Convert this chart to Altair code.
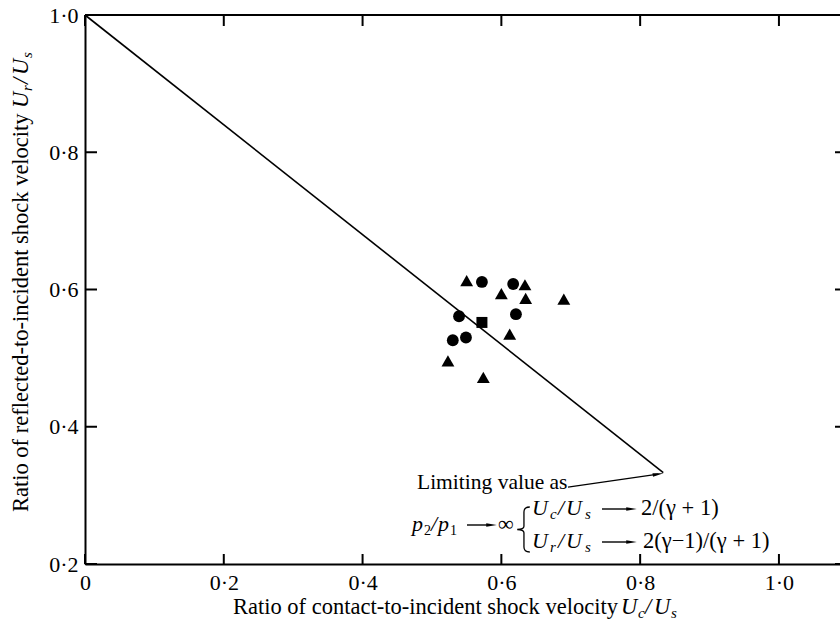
import altair as alt
import pandas as pd

FONT = "Liberation Serif"

# ---- data ----
X_TICKS = [0, 0.2, 0.4, 0.6, 0.8, 1.0]
Y_TICKS = [0.2, 0.4, 0.6, 0.8, 1.0]
LINE_X = [0.0, 0.8333]
LINE_Y = [1.0, 0.3333]
TRI_X = [0.550, 0.600, 0.634, 0.635, 0.690, 0.612, 0.523, 0.574]
TRI_Y = [0.613, 0.594, 0.607, 0.587, 0.586, 0.535, 0.496, 0.472]
CIR_X = [0.572, 0.617, 0.539, 0.621, 0.549, 0.530]
CIR_Y = [0.611, 0.608, 0.561, 0.564, 0.530, 0.526]
SQ_X = [0.572]
SQ_Y = [0.552]
ARROW_X = [0.696, 0.826]
ARROW_Y = [0.312, 0.331]

W, H = 755, 549
xscale = alt.Scale(domain=[0, 1.088], nice=False, zero=False)
yscale = alt.Scale(domain=[0.2, 1.0], nice=False, zero=False)
label_expr = "datum.value == 0 ? '0' : replace(format(datum.value, '.1f'), '.', '·')"

one = pd.DataFrame({"d": [0]})

def ax(pad):
    return dict(labelExpr=label_expr, title=None, ticks=False, tickSize=0, grid=False,
                domain=True, domainColor="black", domainWidth=2, labelFont=FONT,
                labelFontSize=22, labelColor="black", labelPadding=pad,
                labelFlush=False, labelOverlap=False)

line = alt.Chart(pd.DataFrame({"x": LINE_X, "y": LINE_Y})).mark_line(
    color="black", strokeWidth=1.6).encode(
    x=alt.X("x:Q", scale=xscale, axis=alt.Axis(values=X_TICKS, **ax(8))),
    y=alt.Y("y:Q", scale=yscale, axis=alt.Axis(values=Y_TICKS, **ax(7))),
)

def pts(xs, ys, shape, size):
    return alt.Chart(pd.DataFrame({"x": xs, "y": ys})).mark_point(
        shape=shape, filled=True, color="black", opacity=1, size=size).encode(
        x=alt.X("x:Q", scale=xscale, axis=None),
        y=alt.Y("y:Q", scale=yscale, axis=None))

tri = pts(TRI_X, TRI_Y, "triangle-up", 165)
cir = pts(CIR_X, CIR_Y, "circle", 140)
sq = pts(SQ_X, SQ_Y, "square", 121)

# frame: top border at the top of the y range
top = alt.Chart(pd.DataFrame({"yv": [Y_TICKS[-1]]})).mark_rule(color="black", strokeWidth=2).encode(
    y=alt.Y("yv:Q", scale=yscale, axis=None),
    x=alt.value(0), x2=alt.value(W))

xt = pd.DataFrame({"tx": X_TICKS})
yt = pd.DataFrame({"ty": Y_TICKS})
tick_bottom = alt.Chart(xt).mark_rule(color="black", strokeWidth=2).encode(
    x=alt.X("tx:Q", scale=xscale, axis=None), y=alt.value(H), y2=alt.value(H - 10))
tick_top = alt.Chart(xt).mark_rule(color="black", strokeWidth=2).encode(
    x=alt.X("tx:Q", scale=xscale, axis=None), y=alt.value(0), y2=alt.value(11))
tick_left = alt.Chart(yt).mark_rule(color="black", strokeWidth=2).encode(
    y=alt.Y("ty:Q", scale=yscale, axis=None), x=alt.value(0), x2=alt.value(12))
tick_right = alt.Chart(yt).mark_rule(color="black", strokeWidth=2).encode(
    y=alt.Y("ty:Q", scale=yscale, axis=None), x=alt.value(W - 5), x2=alt.value(W))

# arrow for "Limiting value as"
arrow_line = alt.Chart(pd.DataFrame({"x": ARROW_X, "y": ARROW_Y})).mark_line(
    color="black", strokeWidth=1.3).encode(
    x=alt.X("x:Q", scale=xscale, axis=None), y=alt.Y("y:Q", scale=yscale, axis=None))
HEAD = "M-1,-0.33L1,0L-1,0.33Z"
arrow_head = alt.Chart(pd.DataFrame({"x": [ARROW_X[1]], "y": [ARROW_Y[1]]})).mark_point(
    shape=HEAD, filled=True, color="black", opacity=1, size=121, angle=351).encode(
    x=alt.X("x:Q", scale=xscale, axis=None), y=alt.Y("y:Q", scale=yscale, axis=None))

layers = [line, top, tick_bottom, tick_top, tick_left, tick_right, arrow_line, arrow_head,
          tri, cir, sq]

def txt(s, x, y, size=22, italic=False, angle=0):
    return alt.Chart(one).mark_text(
        text=s, align="left", baseline="alphabetic", font=FONT, fontSize=size,
        fontStyle="italic" if italic else "normal", angle=angle, color="black").encode(
        x=alt.value(x), y=alt.value(y))

def hline(x1, x2, y):
    return alt.Chart(one).mark_rule(color="black", strokeWidth=1.4).encode(
        x=alt.value(x1), x2=alt.value(x2), y=alt.value(y))

def head(x, y):
    return alt.Chart(one).mark_point(shape=HEAD, filled=True, color="black", opacity=1,
                                     size=110).encode(x=alt.value(x), y=alt.value(y))

# annotation text
layers.append(txt("Limiting value as", 332, 474, 21.5))
# p2/p1 -> infinity
layers += [txt("p", 327, 516, 22, True), txt("2", 339, 520, 14),
           txt("/", 346, 516, 22, True), txt("p", 353, 516, 22, True),
           txt("1", 365, 520, 14),
           hline(382, 404, 510), head(406.5, 510),
           txt("∞", 413, 516, 22)]
# brace
BRACE = "M0.28,-1Q0.02,-1,0.02,-0.78L0.02,-0.14Q0.02,0,-0.28,0Q0.02,0,0.02,0.14L0.02,0.78Q0.02,1,0.28,1"
layers.append(alt.Chart(one).mark_point(shape=BRACE, filled=False, color="black", opacity=1,
                                        strokeWidth=1.3, size=2025).encode(
    x=alt.value(438.5), y=alt.value(514.5)))
# row 1
layers += [txt("U", 447, 500, 22, True), txt("c", 465, 504, 15, True),
           txt("/", 473, 500, 22, True), txt("U", 481, 500, 22, True),
           txt("s", 500, 504, 15, True),
           hline(517, 546, 494), head(546.5, 494),
           txt("2/(γ + 1)", 556, 500, 22.5)]
# row 2
layers += [txt("U", 447, 533, 22, True), txt("r", 465, 537, 15, True),
           txt("/", 473, 533, 22, True), txt("U", 481, 533, 22, True),
           txt("s", 500, 537, 15, True),
           hline(517, 546, 527), head(546.5, 527),
           txt("2(γ−1)/(γ + 1)", 558, 533, 22.5)]

# x axis title
layers += [txt("Ratio of contact-to-incident shock velocity", 148, 599, 22.5),
           txt("U", 536, 599, 22.5, True), txt("c", 553, 603, 15, True),
           txt("/", 560, 599, 22.5, True), txt("U", 569, 599, 22.5, True),
           txt("s", 586, 603, 15, True)]
# y axis title (rotated)
layers += [txt("Ratio of reflected-to-incident shock velocity", -57, 497, 22.5, False, 270),
           txt("U", -57, 93, 22.5, True, 270), txt("r", -53, 76, 15, True, 270),
           txt("/", -57, 69, 22.5, True, 270), txt("U", -57, 60, 22.5, True, 270),
           txt("s", -53, 43, 15, True, 270)]

chart = alt.layer(*layers).resolve_axis(x="independent", y="independent").properties(
    width=W, height=H,
    padding={"left": 85, "top": 15, "right": 0, "bottom": 58},
    autosize=alt.AutoSizeParams(type="none"),
    background="white",
).configure_view(stroke=None)

chart.save("out.html", embed_options={"renderer": "svg", "actions": False})
